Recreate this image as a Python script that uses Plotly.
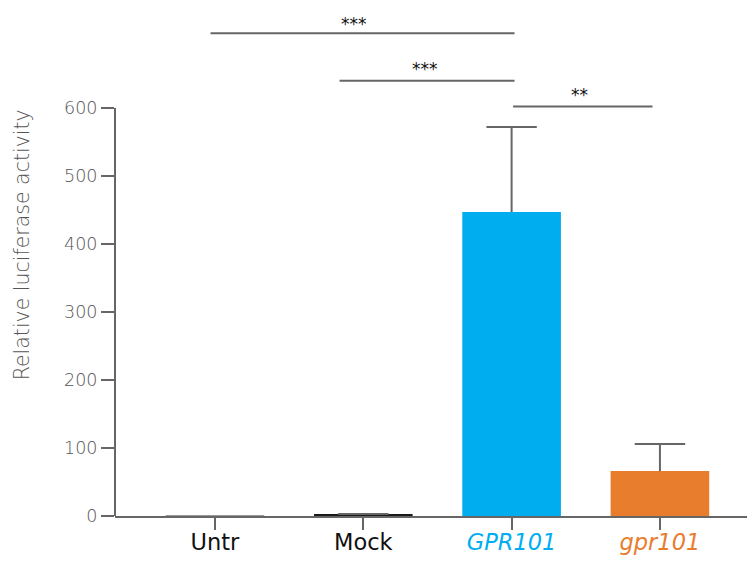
import plotly.graph_objects as go

categories = ["Untr", "Mock", "GPR101", "gpr101"]
values = [0.6, 2.0, 447, 66]
errors_up = [0, 1.0, 125, 40]
bar_colors = ["#9a9a9a", "#1a1a1a", "#00AEEF", "#E87D2E"]
label_colors = ["#111111", "#111111", "#00AEEF", "#E87D2E"]
label_italic = [False, False, True, True]
y_ticks = [0, 100, 200, 300, 400, 500, 600]

# significance brackets: (x start, x end, y level, label)
sig_x0 = [-0.03, 0.84, 2.01]
sig_x1 = [2.02, 2.02, 2.95]
sig_y = [710, 640, 602]
sig_label = ["***", "***", "**"]
sig_text_x = [0.94, 1.415, 2.46]
sig_text_y = [723, 658, 619]

FONT = "DejaVu Sans"
GRAY = "#666666"
TEXT_GRAY = "#555555"

xpos = list(range(len(categories)))
fig = go.Figure()
fig.add_trace(go.Bar(
    x=xpos, y=values, width=0.665,
    marker=dict(color=bar_colors, line=dict(width=0)),
    error_y=dict(type="data", symmetric=False, array=errors_up,
                 arrayminus=[0] * len(values), color=GRAY, thickness=2, width=0),
))
# error-bar caps (top only)
cap_y = [v + e if e > 0 else None for v, e in zip(values, errors_up)]
fig.add_trace(go.Scatter(
    x=xpos, y=cap_y, mode="markers",
    marker=dict(symbol="line-ew", size=36, line=dict(color=GRAY, width=2)),
    hoverinfo="skip",
))

ticktext = []
for c, col, it in zip(categories, label_colors, label_italic):
    t = f"<span style='color:{col}'>{'<i>' + c + '</i>' if it else c}</span>"
    ticktext.append(t)

# page body has an 8px margin, so the figure is 8px smaller and margins are reduced by 8
fig.update_layout(
    width=747, height=555,
    margin=dict(l=107, r=0, t=0, b=47),
    plot_bgcolor="white", paper_bgcolor="white",
    showlegend=False,
    font=dict(family=FONT, color=TEXT_GRAY, weight=300),
    xaxis=dict(range=[-0.674, 3.641], tickvals=xpos, ticktext=ticktext,
               showline=True, linecolor=GRAY, linewidth=2,
               ticks="outside", ticklen=12, tickwidth=2, tickcolor=GRAY,
               tickfont=dict(size=22.5, family=FONT, weight=400),
               ticklabelstandoff=-7,
               showgrid=False, zeroline=False, automargin=False),
    yaxis=dict(range=[0, 747], tickvals=y_ticks, showline=False,
               ticks="outside", ticklen=13, tickwidth=2, tickcolor=GRAY,
               tickfont=dict(size=17.5, color=TEXT_GRAY, family=FONT, weight=300),
               showgrid=False, zeroline=False, automargin=False),
)

# y axis line from 0 to 600 only
fig.add_shape(type="line", xref="paper", yref="y", x0=0, x1=0, y0=0, y1=600,
              line=dict(color=GRAY, width=2))

fig.add_annotation(text="Relative luciferase activity", textangle=-90,
                   xref="paper", yref="y", x=-0.1453, y=398, xanchor="center", yanchor="middle",
                   showarrow=False, font=dict(size=20.5, color=TEXT_GRAY, family=FONT, weight=300))

for x0, x1, y in zip(sig_x0, sig_x1, sig_y):
    fig.add_shape(type="line", xref="x", yref="y", x0=x0, x1=x1, y0=y, y1=y,
                  line=dict(color=GRAY, width=2))
for tx, ty, lab in zip(sig_text_x, sig_text_y, sig_label):
    fig.add_annotation(text=lab, xref="x", yref="y", x=tx, y=ty,
                       showarrow=False, font=dict(size=17, color="#111111", family=FONT, weight=400))

fig.write_html("out.html")
